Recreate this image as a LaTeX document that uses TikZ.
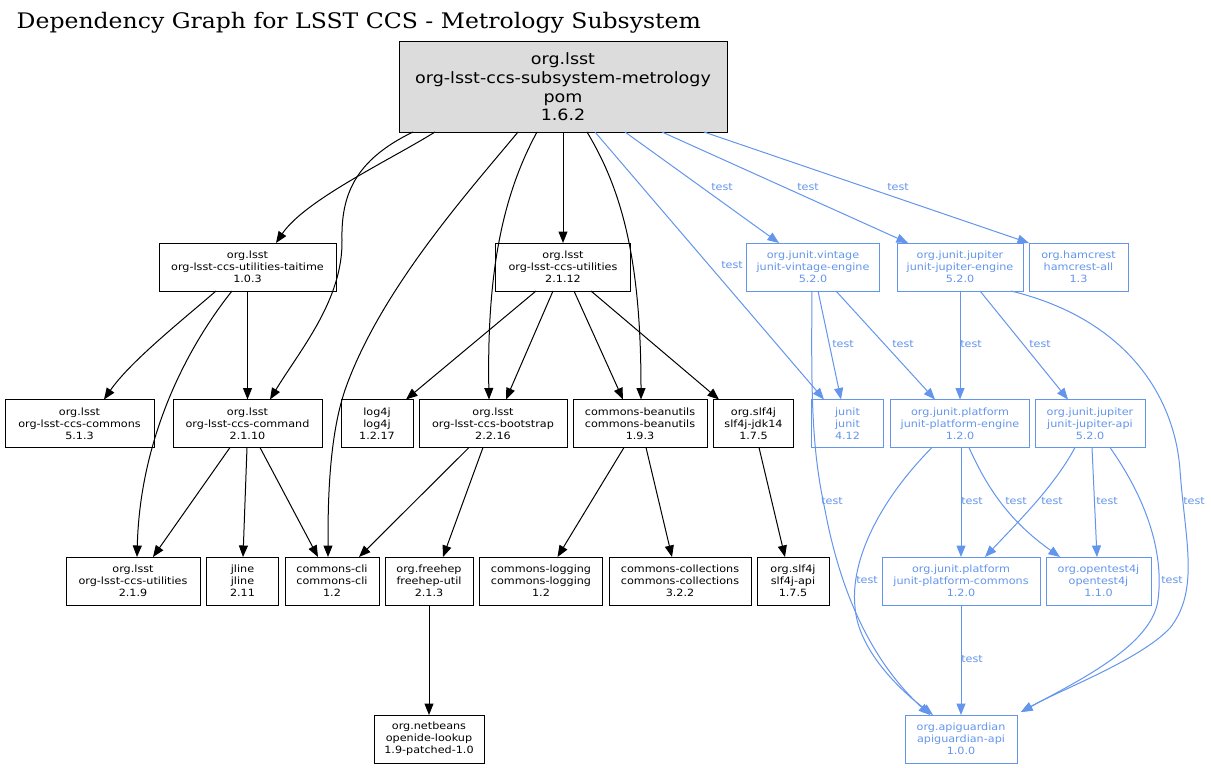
\documentclass[tikz,border=0pt]{standalone}
\usepackage{fontspec}
\setmainfont[FakeStretch=1.12]{DejaVu Sans}
\newfontfamily\titlefont[FakeStretch=1.1]{DejaVu Serif}
\usetikzlibrary{arrows.meta,calc}
\definecolor{tblue}{RGB}{100,149,237}
\definecolor{rootgray}{RGB}{220,220,220}
\begin{document}
\begin{tikzpicture}[x=1pt,y=-1pt,
  box/.style={draw=black, line width=1pt, rectangle, inner sep=0pt, outer sep=0pt,
    minimum height=48pt, align=center, font=\fontsize{10}{12}\selectfont},
  tbox/.style={box, draw=tblue, text=tblue},
  dep/.style={draw=black, line width=1pt, -{Triangle[length=11.5pt,width=9pt]}},
  tdep/.style={dep, draw=tblue, color=tblue},
  lbl/.style={text=tblue, inner sep=0pt, font=\fontsize{10}{12}\selectfont}
]
\useasboundingbox[fill=white] (0,0) rectangle (1211,768);

\node[anchor=base west, inner sep=0pt, font=\titlefont\fontsize{21.4}{25}\selectfont] (title) at (16.5,28.3) {Dependency Graph for LSST CCS - Metrology Subsystem};

% root
\node[box, fill=rootgray, minimum width=328pt, minimum height=90pt, font=\fontsize{15.6}{18.7}\selectfont] (root) at (563,87) {org.lsst\\org-lsst-ccs-subsystem-metrology\\pom\\1.6.2};

% row 2
\node[box, minimum width=177pt] (taitime) at (247.5,267) {org.lsst\\org-lsst-ccs-utilities-taitime\\1.0.3};
\node[box, minimum width=135pt] (util) at (563,267) {org.lsst\\org-lsst-ccs-utilities\\2.1.12};
\node[tbox, minimum width=133pt] (vintage) at (813,267) {org.junit.vintage\\junit-vintage-engine\\5.2.0};
\node[tbox, minimum width=126pt] (jengine) at (960,267) {org.junit.jupiter\\junit-jupiter-engine\\5.2.0};
\node[tbox, minimum width=99pt] (hamcrest) at (1078.5,267) {org.hamcrest\\hamcrest-all\\1.3};

% row 3
\node[box, minimum width=149pt] (commons) at (79.5,423.5) {org.lsst\\org-lsst-ccs-commons\\5.1.3};
\node[box, minimum width=149pt] (command) at (247.5,423.5) {org.lsst\\org-lsst-ccs-command\\2.1.10};
\node[box, minimum width=72pt] (log4j) at (377,423.5) {log4j\\log4j\\1.2.17};
\node[box, minimum width=148pt] (bootstrap) at (493,423.5) {org.lsst\\org-lsst-ccs-bootstrap\\2.2.16};
\node[box, minimum width=134pt] (beanutils) at (640,423.5) {commons-beanutils\\commons-beanutils\\1.9.3};
\node[box, minimum width=80pt] (jdk14) at (753.5,423.5) {org.slf4j\\slf4j-jdk14\\1.7.5};
\node[tbox, minimum width=72pt] (junit) at (847.5,423.5) {junit\\junit\\4.12};
\node[tbox, minimum width=139pt] (pengine) at (960,423.5) {org.junit.platform\\junit-platform-engine\\1.2.0};
\node[tbox, minimum width=110pt] (japi) at (1090,423.5) {org.junit.jupiter\\junit-jupiter-api\\5.2.0};

% row 4
\node[box, minimum width=134pt] (util219) at (133,581) {org.lsst\\org-lsst-ccs-utilities\\2.1.9};
\node[box, minimum width=72pt] (jline) at (242.5,581) {jline\\jline\\2.11};
\node[box, minimum width=94pt] (cli) at (332,581) {commons-cli\\commons-cli\\1.2};
\node[box, minimum width=88pt] (freehep) at (429,581) {org.freehep\\freehep-util\\2.1.3};
\node[box, minimum width=123pt] (logging) at (541,581) {commons-logging\\commons-logging\\1.2};
\node[box, minimum width=142pt] (collections) at (680,581) {commons-collections\\commons-collections\\3.2.2};
\node[box, minimum width=72pt] (slfapi) at (793,581) {org.slf4j\\slf4j-api\\1.7.5};
\node[tbox, minimum width=158pt] (pcommons) at (961,581) {org.junit.platform\\junit-platform-commons\\1.2.0};
\node[tbox, minimum width=105pt] (opentest) at (1098.5,581) {org.opentest4j\\opentest4j\\1.1.0};

% row 5
\node[box, minimum width=110pt] (openide) at (429,739) {org.netbeans\\openide-lookup\\1.9-patched-1.0};
\node[tbox, minimum width=112pt] (apig) at (961,739) {org.apiguardian\\apiguardian-api\\1.0.0};

% black edges
\draw[dep] ([xshift=-128pt]root.south) .. controls (390,160) and (305,200) .. ([xshift=28.5pt]taitime.north);
\draw[dep] ([xshift=-150pt]root.south) .. controls (355,160) and (341,195) .. (342,240) .. controls (343,300) and (300,350) .. ([xshift=22.5pt]command.north);
\draw[dep] ([xshift=-45pt]root.south) .. controls (470,190) and (380,290) .. (345,390) .. controls (328,440) and (328,510) .. ([xshift=-4pt]cli.north);
\draw[dep] ([xshift=-26pt]root.south) .. controls (500,200) and (487,280) .. ([xshift=-4pt]bootstrap.north);
\draw[dep] (root.south) -- (util.north);
\draw[dep] ([xshift=24pt]root.south) .. controls (622,190) and (641,260) .. ([xshift=1pt]beanutils.north);

\draw[dep] ([xshift=-27pt]util.south) -- ([xshift=29pt]log4j.north);
\draw[dep] ([xshift=-10pt]util.south) -- ([xshift=13pt]bootstrap.north);
\draw[dep] ([xshift=11pt]util.south) -- ([xshift=-17pt]beanutils.north);
\draw[dep] ([xshift=28pt]util.south) -- ([xshift=-34.5pt]jdk14.north);

\draw[dep] ([xshift=-31.5pt]taitime.south) .. controls (180,322) and (130,362) .. ([xshift=24.5pt]commons.north);
\draw[dep] (taitime.south) -- (command.north);
\draw[dep] ([xshift=-15.5pt]taitime.south) .. controls (185,350) and (140,440) .. ([xshift=4pt]util219.north);

\draw[dep] ([xshift=-17.5pt]command.south) -- ([xshift=20pt]util219.north);
\draw[dep] ([xshift=-0.5pt]command.south) -- ([xshift=0.5pt]jline.north);
\draw[dep] ([xshift=12.5pt]command.south) -- ([xshift=-14pt]cli.north);

\draw[dep] ([xshift=-24pt]bootstrap.south) -- ([xshift=27pt]cli.north);
\draw[dep] ([xshift=-10pt]bootstrap.south) -- ([xshift=14pt]freehep.north);

\draw[dep] ([xshift=-16pt]beanutils.south) -- ([xshift=16.5pt]logging.north);
\draw[dep] ([xshift=6pt]beanutils.south) -- ([xshift=-8pt]collections.north);
\draw[dep] ([xshift=5.5pt]jdk14.south) -- ([xshift=-8pt]slfapi.north);
\draw[dep] (freehep.south) -- (openide.north);

% blue edges
\draw[tdep] ([xshift=32pt]root.south) -- ([xshift=-23.5pt]junit.north);
\draw[tdep] ([xshift=62pt]root.south) -- ([xshift=-34pt]vintage.north);
\draw[tdep] ([xshift=99pt]root.south) -- ([xshift=-52pt]jengine.north);
\draw[tdep] ([xshift=141pt]root.south) -- (hamcrest.north west);

\draw[tdep] ([xshift=5pt]vintage.south) -- ([xshift=-6.5pt]junit.north);
\draw[tdep] ([xshift=-1pt]vintage.south) .. controls (811,400) and (812,450) .. (825,510) .. controls (840,590) and (870,660) .. ([xshift=-31pt]apig.north);
\draw[tdep] ([xshift=23pt]vintage.south) -- ([xshift=-25pt]pengine.north);

\draw[tdep] (jengine.south) -- (pengine.north);
\draw[tdep] ([xshift=20pt]jengine.south) -- ([xshift=-22pt]japi.north);
\draw[tdep] ([xshift=51pt]jengine.south) .. controls (1130,320) and (1175,400) .. (1180,470) .. controls (1185,540) and (1200,590) .. (1170,628) .. controls (1140,660) and (1060,690) .. ([xshift=4pt,yshift=3pt]apig.north east);

\draw[tdep] ([xshift=1pt]pengine.south) -- (pcommons.north);
\draw[tdep] ([xshift=9pt]pengine.south) .. controls (990,495) and (1015,525) .. ([xshift=-38.5pt]opentest.north);
\draw[tdep] ([xshift=-28pt]pengine.south) .. controls (880,500) and (850,560) .. (855,607) .. controls (858,650) and (900,690) .. ([xshift=-28pt]apig.north);

\draw[tdep] ([xshift=-15pt]japi.south) .. controls (1055,485) and (1020,520) .. ([xshift=24pt]pcommons.north);
\draw[tdep] ([xshift=2pt]japi.south) -- ([xshift=-1.5pt]opentest.north);
\draw[tdep] ([xshift=20pt]japi.south) .. controls (1140,490) and (1165,545) .. (1158,600) .. controls (1152,645) and (1080,680) .. ([xshift=4pt,yshift=3pt]apig.north east);

\draw[tdep] (pcommons.south) -- (apig.north);

% labels
\node[lbl] (l1) at (732,265) {test};
\node[lbl] (l2) at (722,187) {test};
\node[lbl] (l3) at (808,187) {test};
\node[lbl] (l4) at (898,187) {test};
\node[lbl] (l5) at (843,344) {test};
\node[lbl] (l6) at (903,344) {test};
\node[lbl] (l7) at (971,344) {test};
\node[lbl] (l8) at (1040,344) {test};
\node[lbl] (l9) at (832,501) {test};
\node[lbl] (l10) at (972,501) {test};
\node[lbl] (l11) at (1016,501) {test};
\node[lbl] (l12) at (1052,501) {test};
\node[lbl] (l13) at (1107,501) {test};
\node[lbl] (l14) at (1194,501) {test};
\node[lbl] (l15) at (867,580) {test};
\node[lbl] (l16) at (1172,580) {test};
\node[lbl] (l17) at (972,659) {test};
\end{tikzpicture}
\end{document}
